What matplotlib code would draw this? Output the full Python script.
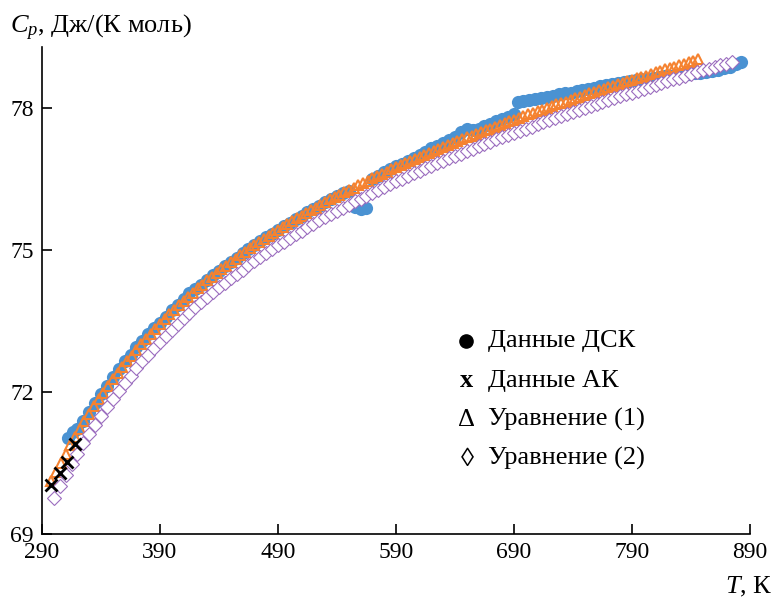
import matplotlib
matplotlib.use("Agg")
import matplotlib.pyplot as plt
from matplotlib.lines import Line2D

plt.rcParams['font.family'] = ['Liberation Serif', 'DejaVu Serif']
plt.rcParams['mathtext.fontset'] = 'custom'
plt.rcParams['mathtext.rm'] = 'Liberation Serif'
plt.rcParams['mathtext.it'] = 'Liberation Serif:italic'

# DSC data
T_dsc = [312, 316, 320, 325, 330, 335, 340, 345, 350, 355, 360, 365, 370, 375,
         380, 385, 390, 395, 400, 405, 410, 415, 420, 425, 430, 435, 440, 445,
         450, 455, 460, 465, 470, 475, 480, 485, 490, 495, 500, 505, 510, 515,
         520, 525, 530, 535, 540, 545, 550, 555, 560, 565, 570, 575, 580, 585,
         590, 595, 600, 605, 610, 615, 620, 625, 630, 635, 640, 645, 650, 655,
         660, 665, 670, 675, 680, 685, 690, 693, 698, 703, 708, 713, 718, 723,
         728, 733, 738, 743, 748, 753, 758, 763, 768, 773, 778, 783, 788, 793,
         798, 803, 808, 813, 818, 823, 828, 833, 838, 843, 848, 853, 858, 863,
         868, 873, 878, 882]
Cp_dsc = [71.02, 71.15, 71.22, 71.38, 71.57, 71.76, 71.96, 72.13, 72.31, 72.48,
          72.65, 72.79, 72.95, 73.07, 73.22, 73.36, 73.47, 73.59, 73.73, 73.84,
          73.96, 74.10, 74.18, 74.27, 74.37, 74.47, 74.56, 74.66, 74.75, 74.84,
          74.93, 75.02, 75.10, 75.19, 75.27, 75.35, 75.43, 75.51, 75.58, 75.66,
          75.73, 75.80, 75.87, 75.94, 76.01, 76.08, 76.14, 76.20, 76.25, 75.92,
          75.86, 75.88, 76.50, 76.57, 76.65, 76.71, 76.77, 76.83, 76.89, 76.95,
          77.02, 77.08, 77.16, 77.21, 77.26, 77.32, 77.39, 77.50, 77.57, 77.53,
          77.57, 77.62, 77.67, 77.72, 77.77, 77.82, 77.88, 78.12, 78.15, 78.17,
          78.19, 78.21, 78.24, 78.26, 78.29, 78.31, 78.33, 78.36, 78.38, 78.41,
          78.43, 78.46, 78.48, 78.51, 78.53, 78.55, 78.57, 78.59, 78.61, 78.62,
          78.64, 78.65, 78.67, 78.68, 78.70, 78.71, 78.73, 78.74, 78.75, 78.77,
          78.79, 78.81, 78.84, 78.88, 78.93, 78.97]

# adiabatic calorimetry
T_ak = [298, 305, 311, 318]
Cp_ak = [70.03, 70.28, 70.52, 70.90]

# equation (1)
T_eq1 = list(range(298, 847, 4))
Cp_eq1 = [70.12, 70.32, 70.51, 70.70, 70.88, 71.05, 71.22, 71.39, 71.54, 71.70,
          71.85, 71.99, 72.13, 72.27, 72.40, 72.53, 72.65, 72.77, 72.89, 73.01,
          73.12, 73.23, 73.33, 73.44, 73.54, 73.64, 73.74, 73.83, 73.92, 74.01,
          74.10, 74.19, 74.27, 74.36, 74.44, 74.52, 74.60, 74.67, 74.75, 74.82,
          74.89, 74.97, 75.04, 75.10, 75.17, 75.24, 75.30, 75.37, 75.43, 75.49,
          75.55, 75.61, 75.67, 75.73, 75.79, 75.85, 75.90, 75.96, 76.01, 76.07,
          76.12, 76.17, 76.22, 76.27, 76.32, 76.37, 76.42, 76.47, 76.52, 76.57,
          76.61, 76.66, 76.71, 76.75, 76.80, 76.84, 76.88, 76.93, 76.97, 77.01,
          77.06, 77.10, 77.14, 77.18, 77.22, 77.26, 77.30, 77.34, 77.38, 77.42,
          77.46, 77.50, 77.54, 77.57, 77.61, 77.65, 77.68, 77.72, 77.76, 77.79,
          77.83, 77.87, 77.90, 77.94, 77.97, 78.01, 78.04, 78.08, 78.11, 78.14,
          78.18, 78.21, 78.24, 78.28, 78.31, 78.34, 78.38, 78.41, 78.44, 78.47,
          78.51, 78.54, 78.57, 78.60, 78.63, 78.66, 78.69, 78.73, 78.76, 78.79,
          78.82, 78.85, 78.88, 78.91, 78.94, 78.97, 79.00, 79.03]

# equation (2)
T_eq2 = list(range(300, 876, 5))
Cp_eq2 = [69.76, 70.01, 70.25, 70.48, 70.70, 70.92, 71.12, 71.31, 71.50, 71.69,
          71.86, 72.03, 72.19, 72.35, 72.50, 72.65, 72.79, 72.93, 73.06, 73.19,
          73.32, 73.44, 73.56, 73.68, 73.79, 73.90, 74.00, 74.11, 74.21, 74.31,
          74.40, 74.50, 74.59, 74.68, 74.77, 74.86, 74.94, 75.02, 75.10, 75.18,
          75.26, 75.34, 75.41, 75.48, 75.56, 75.63, 75.70, 75.76, 75.83, 75.90,
          75.96, 76.03, 76.09, 76.15, 76.21, 76.27, 76.33, 76.39, 76.45, 76.51,
          76.56, 76.62, 76.67, 76.73, 76.78, 76.84, 76.89, 76.94, 76.99, 77.04,
          77.09, 77.14, 77.19, 77.24, 77.29, 77.34, 77.38, 77.43, 77.48, 77.52,
          77.57, 77.61, 77.66, 77.70, 77.75, 77.79, 77.83, 77.88, 77.92, 77.96,
          78.00, 78.05, 78.09, 78.13, 78.17, 78.21, 78.25, 78.29, 78.33, 78.37,
          78.41, 78.45, 78.49, 78.53, 78.57, 78.61, 78.64, 78.68, 78.72, 78.76,
          78.80, 78.83, 78.87, 78.91, 78.94, 78.98]

xticks = [290, 390, 490, 590, 690, 790, 890]
yticks = [69, 72, 75, 78]

fig = plt.figure(figsize=(7.75, 5.98), dpi=100)
ax = fig.add_axes([0.0542, 0.107, 0.9135, 0.815])

ax.plot(T_dsc, Cp_dsc, linestyle='none', marker='o', ms=9.5, color='#4a92d2',
        mec='none', zorder=2)
ax.plot(T_eq1, Cp_eq1, linestyle='none', marker='^', ms=6.5, color='#f58230',
        mfc='none', mew=1.5, zorder=3)
ax.plot(T_eq2, Cp_eq2, linestyle='none', marker='D', ms=7, color='#9b6dbf',
        mfc='white', mew=0.8, zorder=4)
ax.plot(T_ak, Cp_ak, linestyle='none', marker='x', ms=8, color='black',
        mew=2.0, zorder=5)

ax.set_xlim(290, 890)
ax.set_ylim(69, 79.3)
ax.set_xticks(xticks)
ax.set_yticks(yticks)
ax.spines['top'].set_visible(False)
ax.spines['right'].set_visible(False)
for s in ('left', 'bottom'):
    ax.spines[s].set_linewidth(1.2)
ax.tick_params(direction='in', length=7, width=1.2, labelsize=17, pad=6)


def px(x, y):
    return x / 775, 1 - y / 598


fig.text(*px(10, 33.5), r"$C_p$, Дж/(К моль)", fontsize=19,
         ha='left', va='baseline')
fig.text(*px(773, 593), r"$T$, К", fontsize=19, ha='right', va='baseline')

# legend built from text symbols
legend_rows = [("Данные ДСК", 347), ("Данные АК", 387),
               ("Уравнение (1)", 426), ("Уравнение (2)", 465)]
for label, yb in legend_rows:
    fig.text(*px(488, yb), label, fontsize=19, ha='left', va='baseline')

fig.add_artist(Line2D([466 / 775], [1 - 341 / 598], marker='o', ms=9.5,
                      color='black', linestyle='none',
                      transform=fig.transFigure))
fig.text(*px(467, 387), "x", fontsize=19, fontweight='bold', ha='center',
         va='baseline')
fig.text(*px(467, 426.5), "Δ", fontsize=19, ha='center', va='baseline')
fig.text(*px(467, 466), "◊", fontsize=19, ha='center', va='baseline')

fig.savefig("out.png", dpi=100)
